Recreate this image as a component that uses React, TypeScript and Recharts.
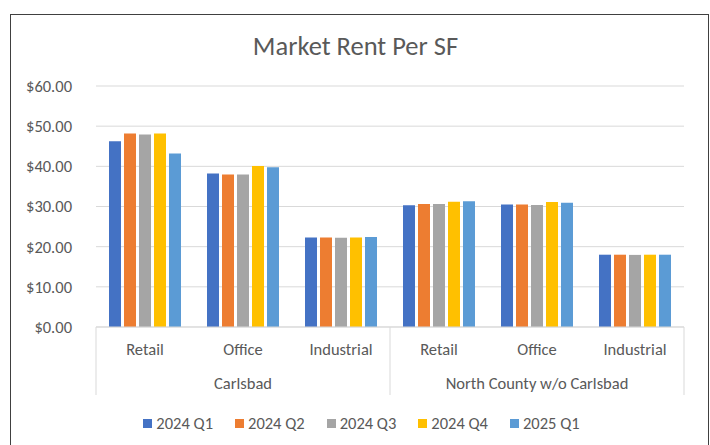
import { BarChart, Bar, XAxis, YAxis, CartesianGrid, Legend } from 'recharts';

const categories = ['Retail', 'Office', 'Industrial', 'Retail', 'Office', 'Industrial'];
const regions = [
  'Carlsbad',
  'Carlsbad',
  'Carlsbad',
  'North County w/o Carlsbad',
  'North County w/o Carlsbad',
  'North County w/o Carlsbad',
];
const q1_2024 = [46.25, 38.2, 22.3, 30.3, 30.5, 18.0];
const q2_2024 = [48.2, 37.95, 22.3, 30.6, 30.5, 18.0];
const q3_2024 = [47.9, 37.95, 22.25, 30.6, 30.4, 17.95];
const q4_2024 = [48.2, 40.1, 22.3, 31.2, 31.1, 18.0];
const q1_2025 = [43.2, 39.8, 22.4, 31.3, 30.95, 18.0];
const yTicks = [0, 10, 20, 30, 40, 50, 60];

const series = [
  { key: 'q1_2024', name: '2024 Q1', color: '#4472C4', values: q1_2024 },
  { key: 'q2_2024', name: '2024 Q2', color: '#ED7D31', values: q2_2024 },
  { key: 'q3_2024', name: '2024 Q3', color: '#A5A5A5', values: q3_2024 },
  { key: 'q4_2024', name: '2024 Q4', color: '#FFC000', values: q4_2024 },
  { key: 'q1_2025', name: '2025 Q1', color: '#5B9BD5', values: q1_2025 },
];

const data = categories.map((category, i) => {
  const row: Record<string, string | number> = { category, region: regions[i] };
  series.forEach((s) => {
    row[s.key] = s.values[i];
  });
  return row;
});

const FONT = 'Carlito, Calibri, Lato, sans-serif';
const TEXT = '#595959';
const LINE = '#d9d9d9';
const FS = 16.5;
const W = 697;
const H = 430;
const MARGIN = { top: 71, right: 24, left: 0, bottom: 10 };
const Y_WIDTH = 85;
const PLOT_W = W - MARGIN.left - MARGIN.right - Y_WIDTH;
const BAND = PLOT_W / categories.length;
const AXIS_H = 84;

function CategoryTick(props: any) {
  const { x, y, payload, index } = props;
  return (
    <g>
      {(index === 0 || index === 3) && (
        <line x1={x - BAND / 2} x2={x - BAND / 2} y1={y} y2={y + AXIS_H - 16} stroke={LINE} />
      )}
      {index === categories.length - 1 && (
        <line x1={x + BAND / 2} x2={x + BAND / 2} y1={y} y2={y + AXIS_H - 16} stroke={LINE} />
      )}
      <text x={x} y={y + 28} textAnchor="middle" fill={TEXT} fontSize={FS} fontFamily={FONT}>
        {payload.value}
      </text>
    </g>
  );
}

function RegionTick(props: any) {
  const { x, y, payload } = props;
  return (
    <text x={x} y={y + 28} textAnchor="middle" fill={TEXT} fontSize={FS} fontFamily={FONT}>
      {payload.value}
    </text>
  );
}

function LegendContent() {
  return (
    <div
      style={{
        height: 24,
        display: 'flex',
        justifyContent: 'center',
        alignItems: 'center',
        fontFamily: FONT,
        fontSize: FS,
        color: TEXT,
        paddingLeft: 28,
      }}
    >
      {series.map((s, i) => (
        <div
          key={s.key}
          style={{ display: 'flex', alignItems: 'center', marginRight: i === series.length - 1 ? 0 : 22 }}
        >
          <span style={{ width: 9, height: 9, background: s.color, marginRight: 4, display: 'inline-block' }} />
          <span>{s.name}</span>
        </div>
      ))}
    </div>
  );
}

export default function App() {
  return (
    <div
      style={{
        position: 'absolute',
        left: 10,
        top: 14,
        width: W,
        height: H,
        border: '1px solid #404040',
        borderBottom: 'none',
        background: '#fff',
      }}
    >
      <div
        style={{
          position: 'absolute',
          left: 0,
          top: 16,
          width: W - 8,
          textAlign: 'center',
          fontFamily: FONT,
          fontSize: 26.5,
          color: TEXT,
          lineHeight: '30px',
        }}
      >
        Market Rent Per SF
      </div>
      <BarChart
        width={W}
        height={H}
        data={data}
        margin={MARGIN}
        barCategoryGap={13}
        barGap={3}
      >
        <CartesianGrid vertical={false} stroke={LINE} />
        <XAxis
          dataKey="category"
          tickLine={false}
          tickSize={0}
          tickMargin={0}
          height={34}
          axisLine={{ stroke: LINE }}
          tick={<CategoryTick />}
          interval={0}
        />
        <XAxis
          xAxisId="region"
          dataKey="region"
          allowDuplicatedCategory={false}
          tickLine={false}
          tickSize={0}
          tickMargin={0}
          axisLine={false}
          height={50}
          tick={<RegionTick />}
          interval={0}
        />
        <YAxis
          width={Y_WIDTH}
          domain={[0, 60]}
          ticks={yTicks}
          axisLine={false}
          tickLine={false}
          tickSize={0}
          tickMargin={24}
          tick={{ fill: TEXT, fontSize: FS, fontFamily: FONT }}
          tickFormatter={(v: number) => `$${v.toFixed(2)}`}
        />
        <Legend verticalAlign="bottom" content={<LegendContent />} />
        {series.map((s) => (
          <Bar key={s.key} dataKey={s.key} name={s.name} fill={s.color} isAnimationActive={false} />
        ))}
      </BarChart>
    </div>
  );
}
